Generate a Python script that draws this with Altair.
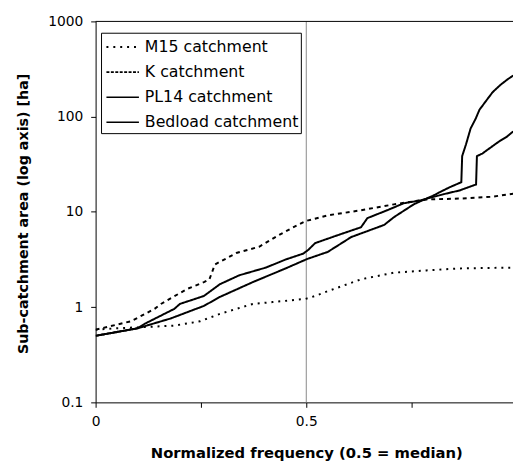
import altair as alt
import pandas as pd

# ---- data ----
series_names = ["M15 catchment", "K catchment", "PL14 catchment", "Bedload catchment"]

m15_x = [0, 0.05, 0.124, 0.187, 0.248, 0.295, 0.373, 0.42, 0.498, 0.521, 0.551, 0.63, 0.708, 0.785, 0.864, 0.991]
m15_y = [0.58, 0.6, 0.62, 0.64, 0.71, 0.85, 1.08, 1.13, 1.22, 1.31, 1.47, 1.96, 2.3, 2.43, 2.55, 2.6]

k_x = [0, 0.084, 0.14, 0.155, 0.217, 0.257, 0.27, 0.283, 0.334, 0.388, 0.435, 0.467, 0.498, 0.551, 0.63, 0.708, 0.785, 0.864, 0.94, 0.991]
k_y = [0.58, 0.71, 0.96, 1.08, 1.55, 1.83, 1.95, 2.8, 3.7, 4.3, 5.7, 6.8, 8.0, 9.2, 10.4, 12.0, 13.5, 13.8, 14.4, 15.5]

pl14_x = [0, 0.1, 0.117, 0.187, 0.2, 0.257, 0.295, 0.341, 0.404, 0.451, 0.493, 0.505, 0.521, 0.575, 0.63, 0.645, 0.692, 0.731, 0.771, 0.8, 0.825, 0.864, 0.903, 0.905, 0.918, 0.942, 0.958, 0.977, 0.991]
pl14_y = [0.5, 0.6, 0.67, 0.96, 1.08, 1.31, 1.74, 2.16, 2.6, 3.16, 3.65, 4.0, 4.7, 5.7, 6.9, 8.6, 10.4, 12.3, 13.2, 14.3, 15.3, 16.8, 19.4, 38.5, 41, 49, 55, 62, 70]

bed_x = [0, 0.1, 0.178, 0.257, 0.295, 0.373, 0.451, 0.502, 0.551, 0.607, 0.685, 0.708, 0.755, 0.785, 0.8, 0.818, 0.841, 0.868, 0.87, 0.879, 0.89, 0.902, 0.911, 0.925, 0.942, 0.96, 0.977, 0.991]
bed_y = [0.5, 0.6, 0.76, 1.03, 1.28, 1.83, 2.55, 3.2, 3.8, 5.45, 7.3, 8.8, 12.0, 13.8, 14.7, 16.2, 18.2, 20.5, 38.5, 51, 75, 95, 118, 143, 180, 214, 245, 270]

x_ticks = [0, 0.25, 0.5, 0.75]
y_ticks = [0.1, 1, 10, 100, 1000]

rows = []
for name, xs, ys in [(series_names[0], m15_x, m15_y), (series_names[1], k_x, k_y),
                     (series_names[2], pl14_x, pl14_y), (series_names[3], bed_x, bed_y)]:
    for i, (xv, yv) in enumerate(zip(xs, ys)):
        rows.append({"series": name, "i": i, "x": xv, "y": yv})
df = pd.DataFrame(rows)

W = 424
H = 387
XMAX = 424 / 428

FONT = "DejaVu Sans"

lines = alt.Chart(df).mark_line(clip=True, color="black", strokeCap="butt").encode(
    x=alt.X("x:Q", scale=alt.Scale(domain=[0, XMAX], nice=False, zero=False),
            axis=alt.Axis(values=x_ticks, grid=False, tickSize=5, labelPadding=7,
                          labelFlush=False,
                          labelExpr="datum.value == 0 ? '0' : (datum.value == 0.5 ? '0.5' : '')",
                          title="Normalized frequency (0.5 = median)",
                          titleX=W / 2 + 2, titleY=56.5, titleBaseline="alphabetic",
                          titleAlign="center", titleAngle=0)),
    y=alt.Y("y:Q", scale=alt.Scale(type="log", domain=[0.1, 1000], nice=False),
            axis=alt.Axis(values=y_ticks, grid=False, tickSize=5, labelPadding=8,
                          labelFlush=False,
                          labelExpr="datum.value < 1 ? '0.1' : format(datum.value, 'd')",
                          title="Sub-catchment area (log axis) [ha]",
                          titleX=-73.5, titleY=195, titleAngle=270,
                          titleBaseline="middle", titleAlign="center")),
    detail="series:N",
    order="i:Q",
    strokeDash=alt.StrokeDash("series:N", scale=alt.Scale(domain=series_names,
                              range=[[2, 5], [4, 4], [1, 0], [1, 0]]), legend=None),
    strokeWidth=alt.StrokeWidth("series:N", scale=alt.Scale(domain=series_names,
                                range=[2, 2, 1.4, 2]), legend=None),
)

median_rule = alt.Chart(pd.DataFrame({"x": [0.5]})).mark_rule(color="#888888", strokeWidth=1).encode(
    x="x:Q"
)

top_border = alt.Chart(pd.DataFrame({"a": [0]})).mark_rule(color="black", strokeWidth=1).encode(
    y=alt.value(0), x=alt.value(0), x2=alt.value(W)
)

legend_df = pd.DataFrame({"name": series_names, "row": [0, 1, 2, 3]})
row_scale = alt.Scale(domain=[0, 3], range=[26, 102.5])

legend_box = alt.Chart(pd.DataFrame({"a": [0]})).mark_rect(fill="white", stroke="black", strokeWidth=1).encode(
    x=alt.value(6), x2=alt.value(209), y=alt.value(12), y2=alt.value(114)
)

legend_lines = alt.Chart(legend_df).mark_rule(color="black", strokeCap="butt").encode(
    y=alt.Y("row:Q", scale=row_scale, axis=None),
    x=alt.value(11), x2=alt.value(44),
    strokeDash=alt.StrokeDash("name:N", scale=alt.Scale(domain=series_names,
                              range=[[2, 5], [3, 1.5], [1, 0], [1, 0]]), legend=None),
    strokeWidth=alt.StrokeWidth("name:N", scale=alt.Scale(domain=series_names,
                                range=[2, 1.5, 1.5, 2]), legend=None),
)

legend_text = alt.Chart(legend_df).mark_text(align="left", baseline="middle", font=FONT,
                                             fontSize=16, color="black").encode(
    y=alt.Y("row:Q", scale=row_scale, axis=None),
    x=alt.value(50),
    text="name:N",
)

chart = alt.layer(
    median_rule, lines, top_border, legend_box, legend_lines, legend_text
).resolve_scale(
    y="independent", strokeDash="independent", strokeWidth="independent"
).properties(
    width=W, height=H,
    autosize=alt.AutoSizeParams(type="none"),
    padding={"left": 89, "top": 10, "right": 0, "bottom": 60},
).configure_view(
    stroke=None
).configure_axis(
    domainColor="black", tickColor="black", labelColor="black", titleColor="black",
    labelFont=FONT, labelFontSize=14, titleFont=FONT, titleFontSize=15,
    titleFontWeight="bold", domainWidth=1, tickWidth=1
).configure_axisY(
    titleFontSize=14.5
)

chart.save("out.html", embed_options={"renderer": "svg", "actions": False})
